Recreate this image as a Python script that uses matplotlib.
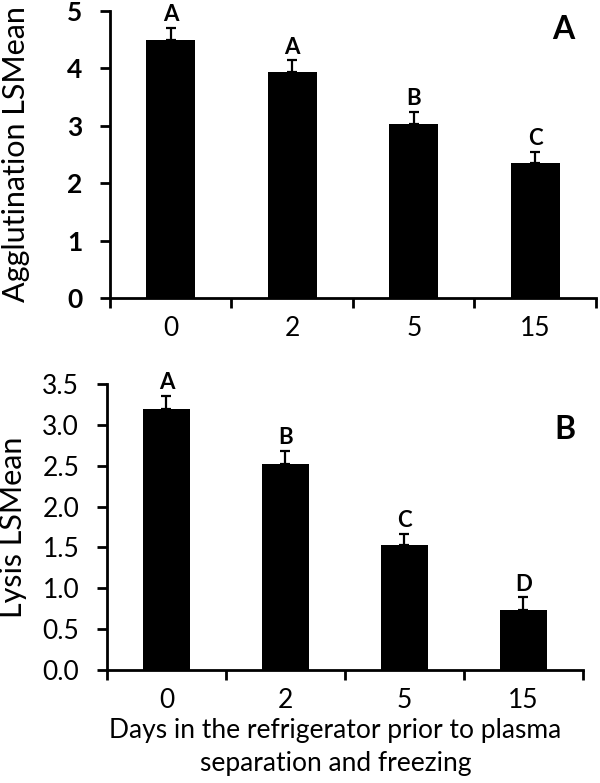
import matplotlib
matplotlib.use('Agg')
import matplotlib.pyplot as plt
import numpy as np

days = ['0', '2', '5', '15']
agg_mean = [4.50, 3.93, 3.03, 2.35]
agg_err = [0.20, 0.21, 0.21, 0.20]
agg_letters = ['A', 'A', 'B', 'C']
lysis_mean = [3.20, 2.52, 1.53, 0.74]
lysis_err = [0.15, 0.16, 0.14, 0.15]
lysis_letters = ['A', 'B', 'C', 'D']

plt.rcParams['font.family'] = ['Lato', 'DejaVu Sans']

fig = plt.figure(figsize=(6, 7.83), dpi=100)
ax1 = fig.add_axes([0.1833, 0.6194, 0.81, 0.3666])
ax2 = fig.add_axes([0.1783, 0.1443, 0.7933, 0.3653])


def panel(ax, means, errs, letters, ylim, yticks, ytl, ylabel, tag, tagpos, ybold):
    x = np.arange(len(days))
    ax.bar(x, means, width=0.4, color='black', zorder=2)
    ax.errorbar(x, means, yerr=[np.zeros(len(errs)), errs], fmt='none',
                ecolor='black', elinewidth=1.6, capsize=3.5, capthick=1.6, zorder=3)
    for xi, m, e, t in zip(x, means, errs, letters):
        ax.annotate(t, (xi, m + e), xytext=(0, 2), textcoords='offset points',
                    ha='center', va='bottom', fontsize=16, fontweight='bold')
    ax.set_xlim(-0.5, len(days) - 0.5)
    ax.set_ylim(*ylim)
    ax.set_yticks(yticks)
    ax.set_yticklabels(ytl, fontsize=19, fontweight='bold' if ybold else 'normal')
    ax.set_xticks(np.arange(len(days) + 1) - 0.5)
    ax.set_xticklabels([])
    ax.set_xticks(x, minor=True)
    ax.set_xticklabels(days, minor=True, fontsize=19)
    ax.tick_params(axis='x', which='minor', length=0, pad=13)
    ax.tick_params(axis='both', which='major', length=7, width=2, direction='out')
    ax.tick_params(axis='y', pad=13)
    for s in ['top', 'right']:
        ax.spines[s].set_visible(False)
    for s in ['left', 'bottom']:
        ax.spines[s].set_linewidth(2)
    ax.set_ylabel(ylabel, fontsize=22)
    ax.text(tagpos[0], tagpos[1], tag, transform=ax.transAxes, fontsize=23,
            fontweight='bold', ha='center', va='center')


panel(ax1, agg_mean, agg_err, agg_letters, (0, 5), [0, 1, 2, 3, 4, 5],
      ['0', '1', '2', '3', '4', '5'], 'Agglutination LSMean', 'A', (0.932, 0.934), True)
panel(ax2, lysis_mean, lysis_err, lysis_letters, (0, 3.5),
      [0, 0.5, 1, 1.5, 2, 2.5, 3, 3.5],
      ['0.0', '0.5', '1.0', '1.5', '2.0', '2.5', '3.0', '3.5'], 'Lysis LSMean', 'B',
      (0.962, 0.84), False)
ax1.yaxis.set_label_coords(-0.165, 0.5)
ax2.yaxis.set_label_coords(-0.168, 0.5)
ax2.set_xlabel('Days in the refrigerator prior to plasma\nseparation and freezing',
               fontsize=19, linespacing=1.4)
ax2.xaxis.set_label_coords(0.48, -0.168, transform=ax2.transAxes)
ax2.xaxis.label.set_va('top')

fig.savefig('out.png', dpi=100)
